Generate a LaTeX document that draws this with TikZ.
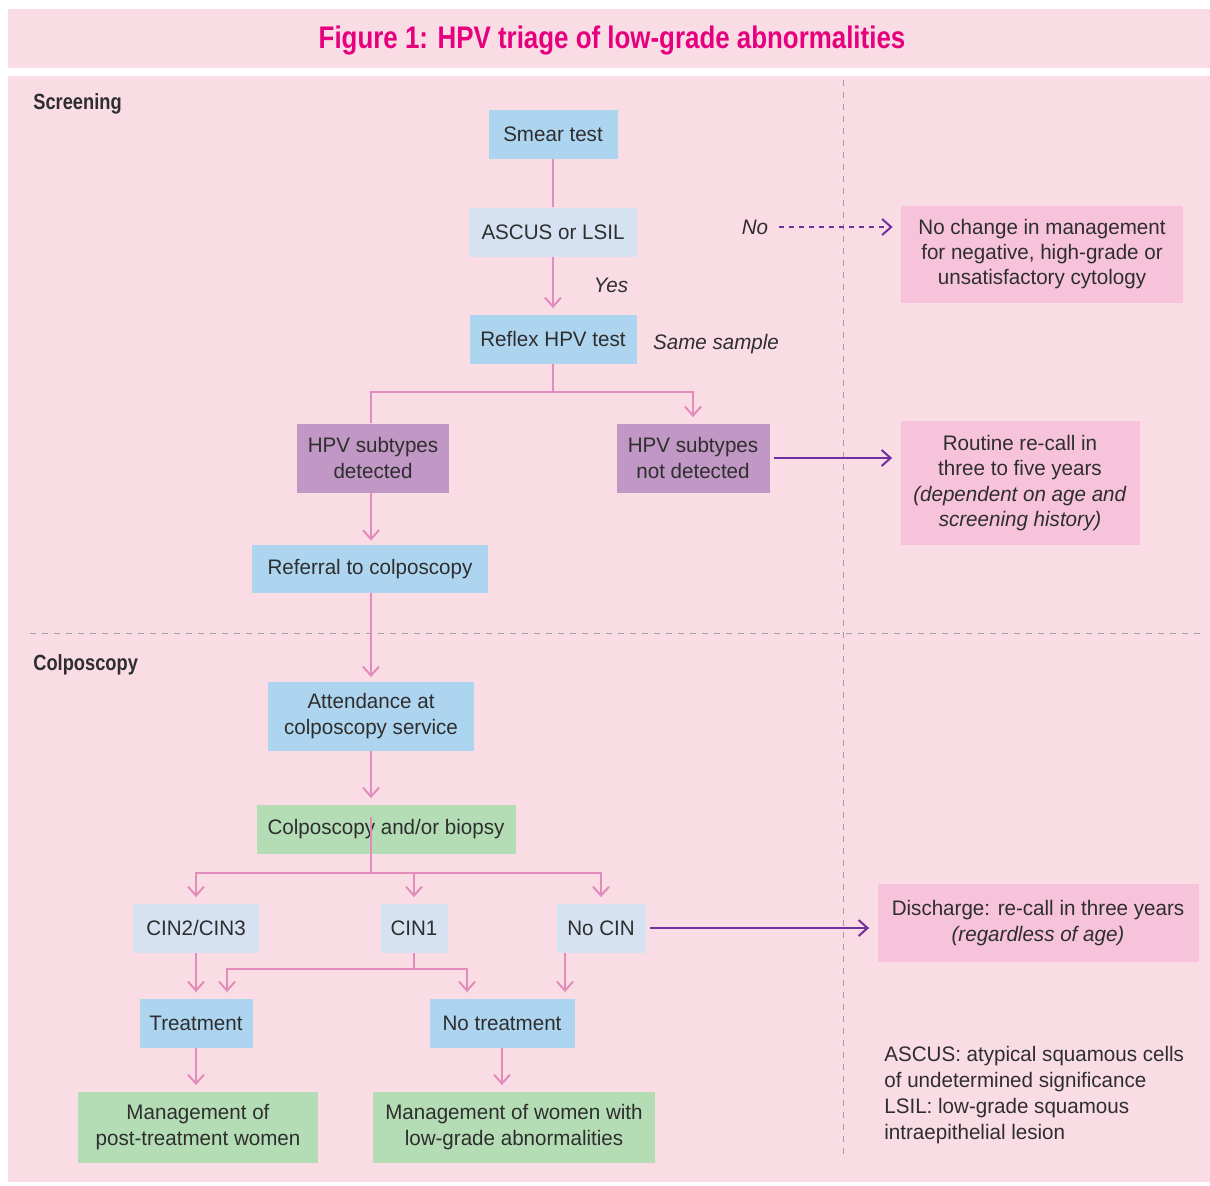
\documentclass[tikz,border=0pt]{standalone}
\usepackage{fontspec}
\setmainfont[FakeStretch=0.98]{Liberation Sans}
\newfontfamily\headfont[FakeStretch=0.83]{Liberation Sans}
\usetikzlibrary{arrows.meta,calc,positioning}
\definecolor{PageBand}{HTML}{FADCE5}
\definecolor{TitleMagenta}{HTML}{E6007E}
\definecolor{BoxBlue}{HTML}{AED5F0}
\definecolor{BoxPale}{HTML}{D6E2F2}
\definecolor{BoxPurple}{HTML}{C198C5}
\definecolor{BoxPink}{HTML}{F7C3DA}
\definecolor{BoxGreen}{HTML}{B5DDB5}
\definecolor{LinkPink}{HTML}{E28CBB}
\definecolor{LinkPurple}{HTML}{7030A0}
\definecolor{InkGray}{HTML}{2E2E2E}

\begin{document}
\begin{tikzpicture}[
  x=0.5pt, y=-0.5pt,
  line cap=butt,
  >={Straight Barb[length=4.5pt,width=8pt]},
  flow box/.style={rectangle,inner sep=0pt,align=center,text=InkGray,
    font=\fontsize{10.5}{12.6}\selectfont},
  blue box/.style={flow box,fill=BoxBlue},
  pale box/.style={flow box,fill=BoxPale},
  purple box/.style={flow box,fill=BoxPurple},
  pink box/.style={flow box,fill=BoxPink},
  green box/.style={flow box,fill=BoxGreen},
  link/.style={draw=LinkPink,line width=1pt},
  side link/.style={draw=LinkPurple,line width=1pt,->},
  divider/.style={draw=gray!75,line width=0.5pt,dash pattern=on 3pt off 3pt},
  side note/.style={text=InkGray,font=\fontsize{10.5}{12.6}\selectfont\itshape},
  section/.style={anchor=west,inner sep=0pt,text=InkGray,font=\headfont\bfseries\fontsize{11}{13}\selectfont}
]

% Page and bands
\fill[white] (0,0) rectangle (1210,1185);
\useasboundingbox (0,0) rectangle (1210,1185);
\fill[PageBand] (8,9) rectangle (1210,68);
\fill[PageBand] (8,76) rectangle (1210,1182);

\node[text=TitleMagenta,font=\headfont\bfseries\fontsize{15.6}{18}\selectfont]
  (title) at (612,40) {Figure 1: HPV triage of low-grade abnormalities};

% Dividers
\draw[divider] (843,80) -- (843,1160);
\draw[divider] (30,633) -- (1200,633);

\node[section] (screening) at (33,104) {Screening};
\node[section] (colposcopy) at (33,665) {Colposcopy};

% Screening stage
\node[blue box,minimum width=64.5pt,minimum height=24.5pt] (smear) at (553,134) {Smear test};
\node[pale box,minimum width=84pt,minimum height=24.5pt] (ascus) at (553,232) {ASCUS or LSIL};
\node[blue box,minimum width=83.5pt,minimum height=24.5pt] (reflex) at (553,339) {Reflex HPV test};
\node[side note] (yes) at (611,285) {Yes};
\node[side note] (same) at (716,344) {Same sample};

\node[purple box,minimum width=76pt,minimum height=34.5pt] (hpvyes) at (373,458)
  {HPV subtypes\\detected};
\node[purple box,minimum width=76.5pt,minimum height=34.5pt] (hpvno) at (693,458)
  {HPV subtypes\\not detected};

\node[pink box,minimum width=141pt,minimum height=48.5pt] (nochange) at (1042,254)
  {No change in management\\for negative, high-grade or\\unsatisfactory cytology};
\node[side note] (no) at (755,227) {No};
\node[pink box,minimum width=119.5pt,minimum height=62pt] (routine) at (1020,483)
  {Routine re-call in\\three to five years\\\textit{(dependent on age and}\\\textit{screening history)}};

\node[blue box,minimum width=118pt,minimum height=24pt] (referral) at (370,569)
  {Referral to colposcopy};

% Colposcopy stage
\node[blue box,minimum width=103pt,minimum height=34.5pt] (attend) at (371,716)
  {Attendance at\\colposcopy service};
\node[green box,minimum width=129.5pt,minimum height=24.5pt] (colpo) at (386,829)
  {Colposcopy and/or biopsy};

\node[pale box,minimum width=63pt,minimum height=24.5pt] (cin23) at (196,928) {CIN2/CIN3};
\node[pale box,minimum width=33.5pt,minimum height=24.5pt] (cinone) at (414,928) {CIN1};
\node[pale box,minimum width=44.5pt,minimum height=24.5pt] (nocin) at (601,928) {No CIN};
\node[pink box,minimum width=160.5pt,minimum height=39pt] (discharge) at (1038,923)
  {Discharge: re-call in three years\\\textit{(regardless of age)}};

\node[blue box,minimum width=56.5pt,minimum height=24.5pt] (treat) at (196,1023) {Treatment};
\node[blue box,minimum width=72.5pt,minimum height=24.5pt] (notreat) at (502,1023) {No treatment};

\node[green box,minimum width=120pt,minimum height=35.5pt] (mgmtpost) at (198,1127)
  {Management of\\post-treatment women};
\node[green box,minimum width=141pt,minimum height=35.5pt] (mgmtlow) at (514,1127)
  {Management of women with\\low-grade abnormalities};

\node[anchor=north west,inner sep=0pt,align=left,text=InkGray,
  font=\fontsize{10.5}{13}\selectfont] (key) at (884,1046)
  {ASCUS: atypical squamous cells\\of undetermined significance\\LSIL: low-grade squamous\\intraepithelial lesion};

% Pink connectors
\coordinate (forkA) at (553,392);
\coordinate (forkB) at (371,873);
\path (cinone.south) ++(0,16) coordinate (forkC);

\draw[link] (smear) -- (ascus);
\draw[link,->,shorten >=3pt] (ascus) -- (reflex);
\draw[link] (reflex.south) -- (forkA);
\draw[link] (attend.north |- hpvyes.north) |- (forkA);
\draw[link,->,shorten >=3pt] (forkA) -| (hpvno.north);
\draw[link,->,shorten >=2pt] (attend.north |- hpvyes.south) -- (attend.north |- referral.north);
\draw[link,->,shorten >=2pt] (attend.north |- referral.south) -- (attend.north);
\draw[link,->,shorten >=3pt] (attend) -- (attend.south |- colpo.north);

\draw[link] ($(attend.south |- colpo.center)+(0,-12)$) -- (forkB);
\draw[link,->,shorten >=3pt] (forkB) -| (cin23.north);
\draw[link,->,shorten >=3pt] (forkB) -| (cinone.north);
\draw[link,->,shorten >=3pt] (forkB) -| (nocin.north);

\draw[link,->,shorten >=3pt] (cin23) -- (treat);
\draw[link] (cinone.south) -- (forkC);
\draw[link,->,shorten >=3pt] (forkC) -| ($(treat.north)+(31,0)$);
\draw[link,->,shorten >=3pt] (forkC) -| ($(notreat.north)+(-35,0)$);
\draw[link,->,shorten >=3pt] ($(nocin.south)+(-36,0)$) -- ($(notreat.north)+(63,0)$);

\draw[link,->,shorten >=3pt] (treat.south) -- (treat.south |- mgmtpost.north);
\draw[link,->,shorten >=3pt] (notreat.south) -- (notreat.south |- mgmtpost.north);

% Purple connectors
\draw[side link,dash pattern=on 2.5pt off 2.5pt,shorten <=2pt,shorten >=4pt]
  (no.east) -- (no.east -| nochange.west);
\draw[side link,shorten <=2pt,shorten >=4pt] (hpvno.east) -- (hpvno.east -| routine.west);
\draw[side link,shorten <=2pt,shorten >=4pt] (nocin.east) -- (nocin.east -| discharge.west);

\end{tikzpicture}
\end{document}
